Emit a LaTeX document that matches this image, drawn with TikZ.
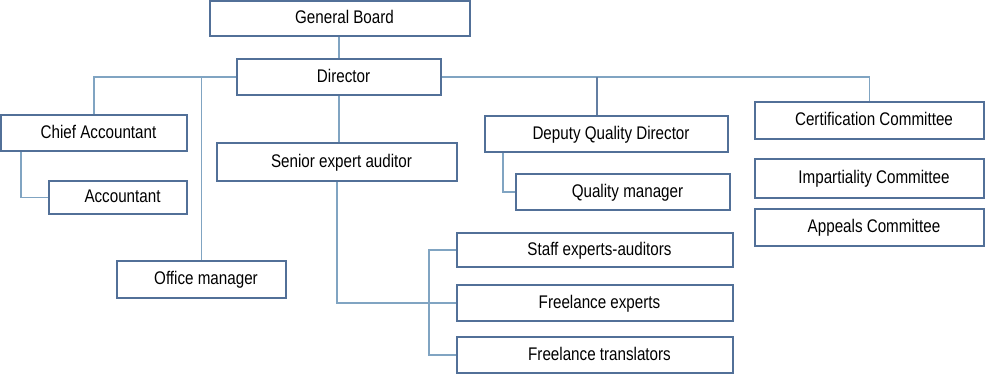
\documentclass[tikz,border=0pt]{standalone}
\usepackage{fontspec}
\setmainfont[FakeStretch=0.83]{Liberation Sans}
\definecolor{boxc}{RGB}{82,112,152}
\definecolor{connc}{RGB}{128,164,194}
\begin{document}
\begin{tikzpicture}[x=1pt,y=-1pt,
  box/.style={draw=boxc,line width=2.3pt,fill=white,inner sep=0pt,
    font=\fontsize{18.3}{20}\selectfont,text=black,text height=13pt,text depth=3pt,
    execute at begin node={\hspace*{9pt}}},
  conn/.style={draw=connc,line width=1.4pt},
  thickconn/.style={draw=boxc!90,line width=2.4pt}]
\useasboundingbox (0,0) rectangle (988,378);
\node[box,minimum width=260pt,minimum height=35pt] (gb) at (340,18.5) {General Board};
\node[box,minimum width=204pt,minimum height=36pt] (dir) at (339,77) {Director};
\node[box,minimum width=186pt,minimum height=36pt] (ca) at (94,133) {Chief Accountant};
\node[box,minimum width=138pt,minimum height=33pt] (acc) at (118,197.5) {Accountant};
\node[box,minimum width=240pt,minimum height=38pt] (sea) at (337,162) {Senior expert auditor};
\node[box,minimum width=169pt,minimum height=37pt] (om) at (201.5,279.5) {Office manager};
\node[box,minimum width=243pt,minimum height=36pt] (dqd) at (606.5,134) {Deputy Quality Director};
\node[box,minimum width=214pt,minimum height=36pt] (qm) at (623,192) {Quality manager};
\node[box,minimum width=229pt,minimum height=37pt] (cc) at (869.5,120.5) {Certification Committee};
\node[box,minimum width=229pt,minimum height=39pt] (ic) at (869.5,178.5) {Impartiality Committee};
\node[box,minimum width=229pt,minimum height=37pt] (ac) at (869.5,227.5) {Appeals Committee};
\node[box,minimum width=276pt,minimum height=34pt] (sta) at (595,250) {Staff experts-auditors};
\node[box,minimum width=276pt,minimum height=36pt] (fe) at (595,303) {Freelance experts};
\node[box,minimum width=276pt,minimum height=36pt] (ft) at (595,355) {Freelance translators};
% connectors
\draw[conn] (dir.north |- gb.south) -- (dir.north);
\draw[conn] (dir.west) -| (ca.north);
\draw[conn] (om.north |- dir.west) -- (om.north);
\draw[conn] ([xshift=-73pt]ca.south) |- (acc.west);
\draw[conn] (dir.south) -- (dir.south |- sea.north);
\draw[conn] (sea.south) |- (fe.west);
\draw[conn] (sta.west) -- ++(-27,0) |- (ft.west);
\draw[conn] (dir.east) -| (cc.north);
\draw[thickconn] ([xshift=-9.5pt]dqd.north |- dir.east) -- ([xshift=-9.5pt]dqd.north);
\draw[conn] ([xshift=-103.5pt]dqd.south) |- (qm.west);
\end{tikzpicture}
\end{document}
